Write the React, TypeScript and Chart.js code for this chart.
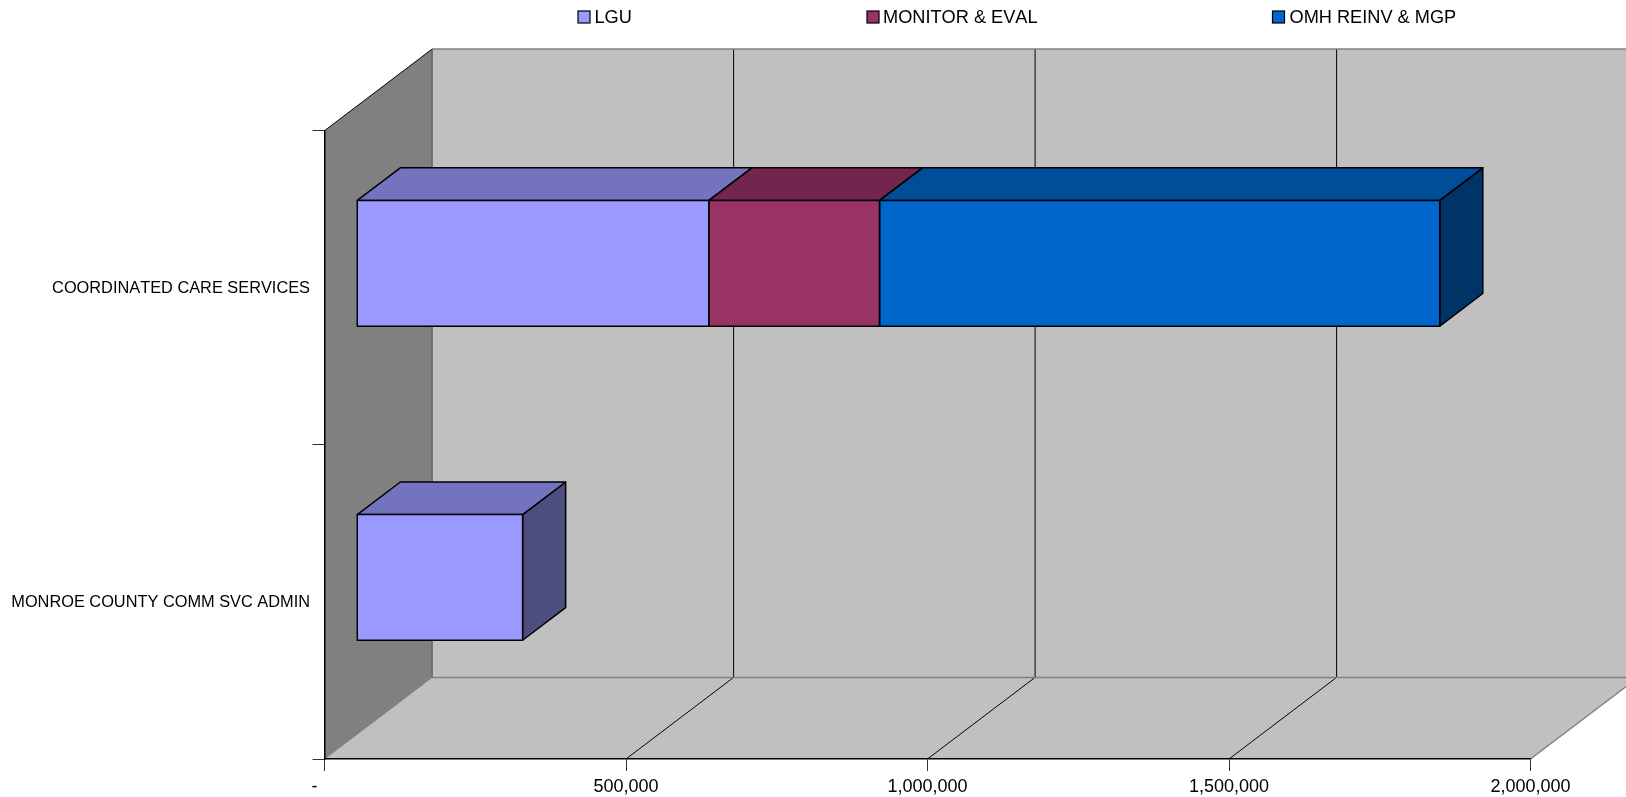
import React, { useEffect, useRef } from "react";
import { Chart, registerables } from "chart.js";

Chart.register(...registerables);

const categories = ["COORDINATED CARE SERVICES", "MONROE COUNTY COMM SVC ADMIN"];
const seriesNames = ["LGU", "MONITOR & EVAL", "OMH REINV & MGP"];
const lguValues = [584000, 275000];
const monitorValues = [283000, null];
const omhValues = [929000, null];
const tickStep = 500000;
const axisMax = 2000000;

const frontColors = ["#9999FF", "#993366", "#0066CC"];
const topColors = ["#7373BF", "#73264D", "#004D99"];
const sideColors = ["#4D4D80", "#4D1A33", "#003366"];
const legendSwatchX = [578, 867, 1272.5];
const legendTextX = [594.5, 883, 1289.5];

const DEPTH_X = 107.6;
const DEPTH_Y = 81.6;
const BAR_NEAR = 0.3;
const BAR_DEPTH = 0.4;
const FONT = '"Liberation Sans", Arial, sans-serif';

function poly(ctx: CanvasRenderingContext2D, pts: number[][], fill: string | null, stroke: string | null, lw = 1) {
  ctx.beginPath();
  pts.forEach((p, i) => (i ? ctx.lineTo(p[0], p[1]) : ctx.moveTo(p[0], p[1])));
  ctx.closePath();
  if (fill) {
    ctx.fillStyle = fill;
    ctx.fill();
  }
  if (stroke) {
    ctx.strokeStyle = stroke;
    ctx.lineWidth = lw;
    ctx.lineJoin = "round";
    ctx.stroke();
  }
}

function line(ctx: CanvasRenderingContext2D, x1: number, y1: number, x2: number, y2: number, color: string, lw = 1) {
  ctx.beginPath();
  ctx.moveTo(x1, y1);
  ctx.lineTo(x2, y2);
  ctx.strokeStyle = color;
  ctx.lineWidth = lw;
  ctx.stroke();
}

const box3d = {
  id: "box3d",
  beforeDraw(chart: any) {
    const { ctx, chartArea: a, scales } = chart;
    const L = a.left, R = a.right, T = a.top, B = a.bottom;
    ctx.fontKerning = "none";
    ctx.save();
    // walls
    poly(ctx, [[L + DEPTH_X, T - DEPTH_Y], [R + DEPTH_X, T - DEPTH_Y], [R + DEPTH_X, B - DEPTH_Y], [L + DEPTH_X, B - DEPTH_Y]], "#C0C0C0", null);
    poly(ctx, [[L, B], [R, B], [R + DEPTH_X, B - DEPTH_Y], [L + DEPTH_X, B - DEPTH_Y]], "#C0C0C0", null);
    poly(ctx, [[L, T], [L + DEPTH_X, T - DEPTH_Y], [L + DEPTH_X, B - DEPTH_Y], [L, B]], "#808080", null);
    for (let v = tickStep; v < axisMax; v += tickStep) {
      const x = scales.x.getPixelForValue(v);
      line(ctx, x + DEPTH_X, T - DEPTH_Y, x + DEPTH_X, B - DEPTH_Y, "#000000");
      line(ctx, x, B, x + DEPTH_X, B - DEPTH_Y, "#000000");
    }
    // frame
    line(ctx, L + DEPTH_X, T - DEPTH_Y, R + DEPTH_X, T - DEPTH_Y, "#808080", 1.5);
    line(ctx, L + DEPTH_X, T - DEPTH_Y, L + DEPTH_X, B - DEPTH_Y, "#666666", 1.5);
    line(ctx, L + DEPTH_X, B - DEPTH_Y, R + DEPTH_X, B - DEPTH_Y, "#808080", 1.5);
    line(ctx, L, B, L + DEPTH_X, B - DEPTH_Y, "#808080", 1);
    line(ctx, R, B, R + DEPTH_X, B - DEPTH_Y, "#808080", 1.5);
    line(ctx, L, T, L + DEPTH_X, T - DEPTH_Y, "#000000", 1);
    // legend
    ctx.font = `18.2px ${FONT}`;
    ctx.textBaseline = "middle";
    ctx.textAlign = "left";
    chart.data.datasets.forEach((ds: any, i: number) => {
      ctx.fillStyle = ds.backgroundColor;
      ctx.fillRect(legendSwatchX[i], 11, 12, 12);
      ctx.strokeStyle = "#000";
      ctx.lineWidth = 1.2;
      ctx.strokeRect(legendSwatchX[i], 11, 12, 12);
      ctx.fillStyle = "#000";
      ctx.fillText(ds.label, legendTextX[i], 17.5);
    });
    ctx.restore();
  },
  beforeDatasetsDraw(chart: any) {
    const { ctx } = chart;
    const nx = DEPTH_X * BAR_NEAR, ny = DEPTH_Y * BAR_NEAR;
    const fx = DEPTH_X * (BAR_NEAR + BAR_DEPTH), fy = DEPTH_Y * (BAR_NEAR + BAR_DEPTH);
    ctx.save();
    chart.data.datasets.forEach((ds: any, d: number) => {
      const meta = chart.getDatasetMeta(d);
      meta.data.forEach((el: any, i: number) => {
        if (ds.data[i] == null) return;
        const p = el.getProps(["x", "y", "base", "height"], true);
        const x0 = p.base, x1 = p.x, t = p.y - p.height / 2, b = p.y + p.height / 2;
        poly(ctx, [[x1 + nx, t - ny], [x1 + fx, t - fy], [x1 + fx, b - fy], [x1 + nx, b - ny]], sideColors[d], "#000", 1.5);
        poly(ctx, [[x0 + nx, t - ny], [x1 + nx, t - ny], [x1 + fx, t - fy], [x0 + fx, t - fy]], topColors[d], "#000", 1.5);
      });
    });
    ctx.restore();
  },
  beforeDatasetDraw(chart: any) {
    chart.ctx.save();
    chart.ctx.translate(DEPTH_X * BAR_NEAR, -DEPTH_Y * BAR_NEAR);
  },
  afterDatasetDraw(chart: any) {
    chart.ctx.restore();
  },
  afterDatasetsDraw(chart: any) {
    const { ctx } = chart;
    const nx = DEPTH_X * BAR_NEAR, ny = DEPTH_Y * BAR_NEAR;
    ctx.save();
    chart.data.datasets.forEach((ds: any, d: number) => {
      const meta = chart.getDatasetMeta(d);
      meta.data.forEach((el: any, i: number) => {
        if (ds.data[i] == null) return;
        const p = el.getProps(["x", "y", "base", "height"], true);
        const t = p.y - p.height / 2 - ny, b = p.y + p.height / 2 - ny;
        poly(ctx, [[p.base + nx, t], [p.x + nx, t], [p.x + nx, b], [p.base + nx, b]], null, "#000", 1.5);
      });
    });
    ctx.restore();
  },
};

export default function App() {
  const ref = useRef<HTMLCanvasElement>(null);
  useEffect(() => {
    const chart = new Chart(ref.current as HTMLCanvasElement, {
      type: "bar",
      plugins: [box3d],
      data: {
        labels: categories,
        datasets: [
          { label: seriesNames[0], data: lguValues, backgroundColor: frontColors[0] },
          { label: seriesNames[1], data: monitorValues, backgroundColor: frontColors[1] },
          { label: seriesNames[2], data: omhValues, backgroundColor: frontColors[2] },
        ] as any,
      },
      options: {
        indexAxis: "y",
        animation: false,
        responsive: false,
        layout: { padding: { left: 0, right: 95.5, top: 130.7, bottom: 0 } },
        plugins: { legend: { display: false }, tooltip: { enabled: false }, title: { display: false } },
        datasets: { bar: { categoryPercentage: 1, barPercentage: 0.4, borderWidth: 0, clip: false } as any },
        scales: {
          x: {
            stacked: true,
            min: 0,
            max: axisMax,
            afterFit: (s: any) => { s.height = 38; },
            border: { display: true, color: "#000", width: 1.5 },
            grid: { drawOnChartArea: false, drawTicks: true, tickLength: 12, tickColor: "#333", tickWidth: 1 },
            ticks: {
              stepSize: tickStep,
              maxRotation: 0,
              autoSkip: false,
              padding: 5,
              color: "#000",
              font: { family: FONT, size: 18 },
              callback: (v: any) => (Number(v) === 0 ? "-\u00A0\u00A0\u00A0\u00A0" : Number(v).toLocaleString("en-US")),
            },
          },
          y: {
            stacked: true,
            afterFit: (s: any) => { s.width = 324.5; },
            border: { display: true, color: "#000", width: 1.5 },
            grid: { drawOnChartArea: false, drawTicks: true, tickLength: 12, tickColor: "#333", tickWidth: 1, offset: true },
            ticks: { padding: 2.5, labelOffset: 0.7, color: "#000", font: { family: FONT, size: 16.35 }, autoSkip: false },
          },
        },
      } as any,
    });
    return () => chart.destroy();
  }, []);
  return (
    <canvas
      ref={ref}
      width={1626}
      height={797}
      style={{ position: "fixed", left: 0, top: 0, width: 1626, height: 797, background: "#fff" }}
    />
  );
}
